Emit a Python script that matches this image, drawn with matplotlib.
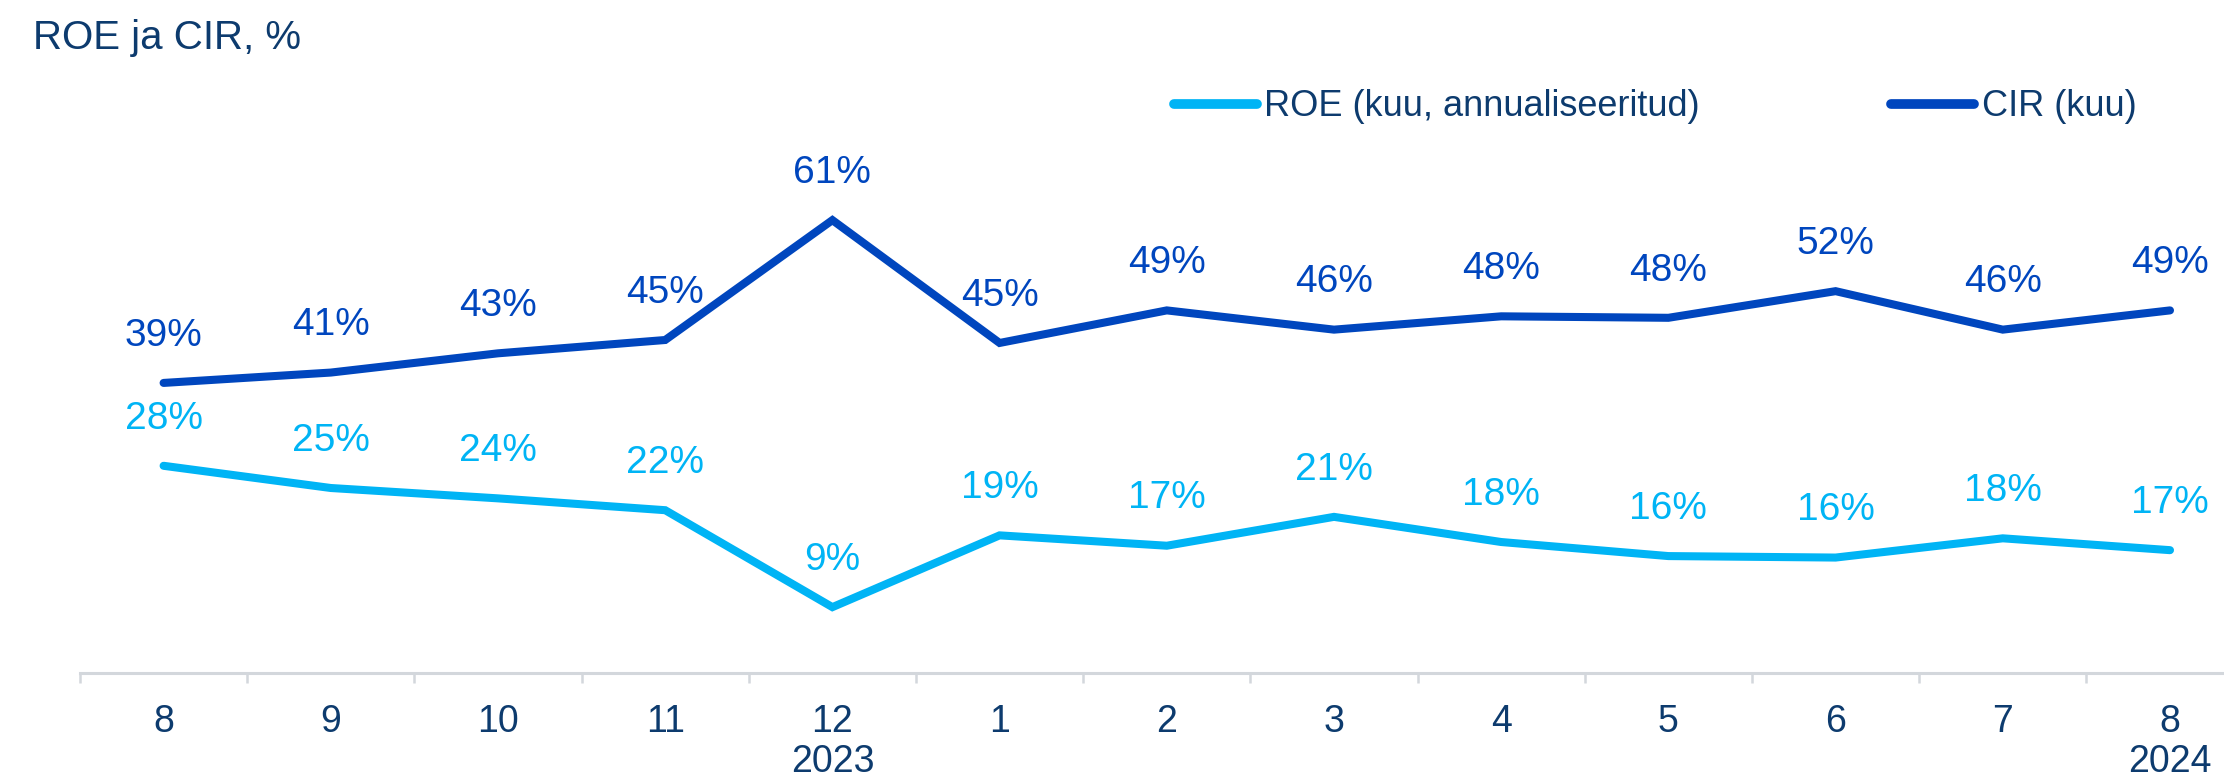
import matplotlib
matplotlib.use("Agg")
import matplotlib.pyplot as plt
from matplotlib.ticker import FixedLocator

# ---- data ----
months = ["8", "9", "10", "11", "12\n2023", "1", "2", "3", "4", "5", "6", "7", "8\n2024"]
roe = [28.0, 25.0, 23.6, 22.0, 8.9, 18.6, 17.2, 21.1, 17.7, 15.8, 15.6, 18.2, 16.6]
cir = [39.2, 40.6, 43.2, 45.0, 61.2, 44.6, 49.0, 46.4, 48.2, 48.0, 51.6, 46.4, 49.0]
series_names = ["ROE (kuu, annualiseeritud)", "CIR (kuu)"]
title = "ROE ja CIR, %"

# ---- style ----
plt.rcParams['font.family'] = ['Liberation Sans', 'DejaVu Sans']
NAVY = "#0d3b6e"
ROE_C = "#00b4f5"
CIR_C = "#0046be"
AXIS_C = "#d3d7dc"

W, H, DPI = 2224, 778, 100
fig = plt.figure(figsize=(W / DPI, H / DPI), dpi=DPI)

n = len(months)
slot = 167.2
left_px = 80
bottom_px = 673
px_per_unit = 7.4
ymax = 80
ax = fig.add_axes([left_px / W, (H - bottom_px) / H, n * slot / W, ymax * px_per_unit / H])

x = list(range(n))
l1, = ax.plot(x, roe, color=ROE_C, lw=5.8, solid_capstyle='round', solid_joinstyle='miter', label=series_names[0])
l2, = ax.plot(x, cir, color=CIR_C, lw=5.8, solid_capstyle='round', solid_joinstyle='miter', label=series_names[1])

for xi, v in zip(x, roe):
    ax.annotate(f"{round(v)}%", (xi, v), xytext=(0, 34), textcoords='offset points',
                ha='center', va='center', fontsize=28, color=ROE_C)
for xi, v in zip(x, cir):
    ax.annotate(f"{round(v)}%", (xi, v), xytext=(0, 34), textcoords='offset points',
                ha='center', va='center', fontsize=28, color=CIR_C)

ax.set_xlim(-0.5, n - 0.5)
ax.set_ylim(0, ymax)

for s in ["top", "right", "left"]:
    ax.spines[s].set_visible(False)
ax.spines["bottom"].set_color(AXIS_C)
ax.spines["bottom"].set_linewidth(2.2)
ax.set_yticks([])

ax.xaxis.set_major_locator(FixedLocator([i - 0.5 for i in range(n + 1)]))
ax.xaxis.set_minor_locator(FixedLocator(x))
ax.set_xticklabels([], minor=False)
ax.set_xticklabels(months, minor=True, linespacing=1.15)
ax.tick_params(axis='x', which='major', length=7.5, width=1.8, color=AXIS_C, direction='out')
ax.tick_params(axis='x', which='minor', length=0, pad=22.5, labelsize=27, labelcolor=NAVY)

fig.text(33 / W, 1 - 38 / H, title, fontsize=29, color=NAVY, ha='left', va='center')

leg = fig.legend(handles=[l1, l2], loc='center left', bbox_to_anchor=(1174 / W, 1 - 107 / H),
                 ncol=2, frameon=False, fontsize=26, borderpad=0, borderaxespad=0,
                 handlelength=2.3, handletextpad=0.2, columnspacing=5.3)
for t in leg.get_texts():
    t.set_color(NAVY)
for h in leg.legend_handles:
    h.set_linewidth(7)
    h.set_solid_capstyle('round')

fig.savefig("out.png", dpi=DPI)
